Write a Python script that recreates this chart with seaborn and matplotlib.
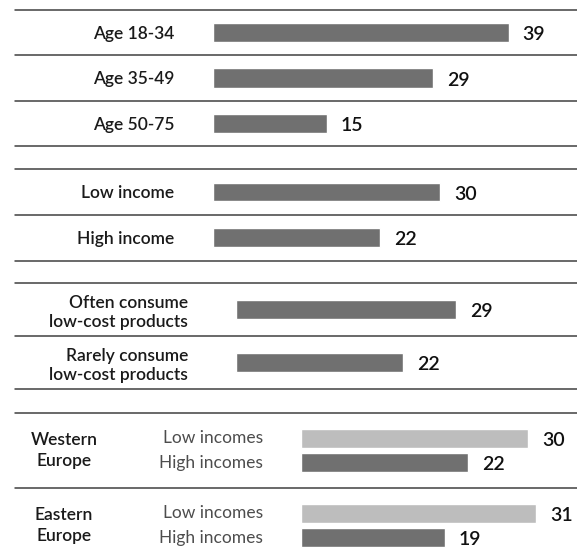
import pandas as pd
import seaborn as sns
import matplotlib.pyplot as plt
import matplotlib.transforms as mtransforms

# --- data ---
age_labels = ["Age 18-34", "Age 35-49", "Age 50-75"]
age_values = [39, 29, 15]

income_labels = ["Low income", "High income"]
income_values = [30, 22]

consume_labels = ["Often consume\nlow-cost products", "Rarely consume\nlow-cost products"]
consume_values = [29, 22]

regions = ["Western\nEurope", "Eastern\nEurope"]
region_groups = ["Low incomes", "High incomes"]
low_values = [30, 31]
high_values = [22, 19]

DARK = "#707070"
LIGHT = "#bdbdbd"
LINE = "#404040"

sns.set_style("white")
plt.rcParams["font.family"] = ["Lato", "DejaVu Sans"]

W, H = 577, 560
PX_PER_UNIT = 7.58  # same value scale in every block

fig = plt.figure(figsize=(W / 100, H / 100), dpi=100)


def make_ax(x0, top, bottom):
    ax = fig.add_axes([x0 / W, 1 - bottom / H, (W - x0) / W, (bottom - top) / H])
    ax.set_xlim(0, (W - x0) / PX_PER_UNIT)
    return ax


def value_labels(ax, c):
    texts = ax.bar_label(c, padding=10, fontsize=14, fontweight="semibold", color="#111111")
    for t in texts:
        t.xyann = (10, -1.5)


def finish(ax, n, x0, bottom_line=True):
    ax.set_ylim(n - 0.5, -0.5)
    ax.set_xticks([])
    ax.set_xlabel("")
    ax.set_ylabel("")
    sns.despine(ax=ax, left=True, bottom=True)
    # separators from x=15px to the right edge
    xmin = (15 - x0) / (W - x0)
    edges = [i - 0.5 for i in range(n + 1)]
    if not bottom_line:
        edges = edges[:-1]
    for e in edges:
        ax.axhline(e, xmin=xmin, xmax=1, color=LINE, lw=1.1, clip_on=False)


def simple_block(labels, values, x0, top, bottom, width, pad):
    ax = make_ax(x0, top, bottom)
    df = pd.DataFrame({"label": labels, "value": values})
    sns.barplot(data=df, x="value", y="label", color=DARK, width=width,
                saturation=1, ax=ax)
    for c in ax.containers:
        value_labels(ax, c)
    ax.tick_params(axis="y", length=0, pad=pad, labelsize=12.5, labelcolor="#1a1a1a")
    for t in ax.get_yticklabels():
        t.set_fontweight("semibold")
        t.set_multialignment("right")
    finish(ax, len(labels), x0)
    return ax


simple_block(age_labels, age_values, 213, 10, 146, 0.42, 28)
simple_block(income_labels, income_values, 213, 169, 260.7, 0.41, 28)
simple_block(consume_labels, consume_values, 236, 283.3, 389, 0.36, 34.5)

# --- regional block with two bars per row ---
x0 = 301
ax = make_ax(x0, 412.7, 563.3)
reg_df = pd.DataFrame({
    "region": regions * 2,
    "group": [region_groups[0]] * 2 + [region_groups[1]] * 2,
    "value": low_values + high_values,
})
sns.barplot(data=reg_df, x="value", y="region", hue="group",
            palette=[LIGHT, DARK], width=0.65, gap=0.225, saturation=1,
            legend=False, ax=ax)
ax.set_yticklabels([])
ax.tick_params(axis="y", length=0)
blend = mtransforms.blended_transform_factory(fig.transFigure, ax.transData)
for c, name in zip(ax.containers, region_groups):
    value_labels(ax, c)
    for p in c.patches:
        yc = p.get_y() + p.get_height() / 2
        ax.text(263 / W, yc, name, transform=blend, ha="right", va="center",
                fontsize=12.5, fontweight="normal", color="#4d4d4d")
for i, r in enumerate(regions):
    ax.text(64 / W, i, r, transform=blend, ha="center", va="center",
            fontsize=12.5, fontweight="semibold", color="#1a1a1a", linespacing=1.4)
finish(ax, len(regions), x0, bottom_line=False)

fig.savefig("out.png", dpi=100)
